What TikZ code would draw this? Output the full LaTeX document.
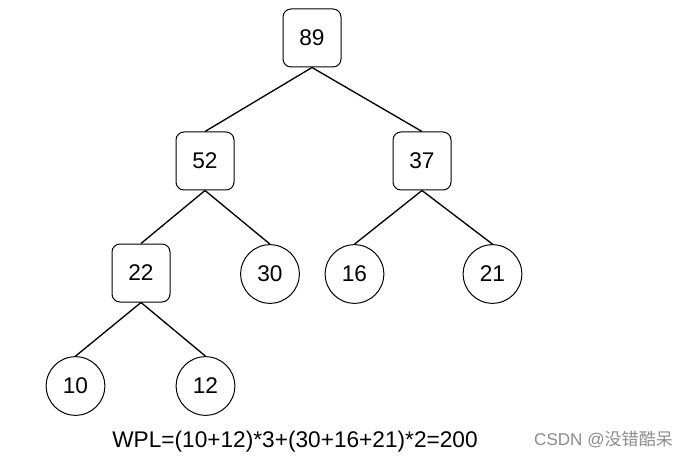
\documentclass[tikz,border=0pt]{standalone}
\usepackage{fontspec}
\setmainfont{Liberation Sans}
\newfontfamily\cjk{Noto Sans CJK SC}

\tikzset{
	inner/.style={draw, rounded corners=6pt, minimum size=43.5pt, line width=0.75pt, font=\fontsize{17}{19}\selectfont},
	leaf/.style={draw, circle, minimum size=44pt, inner sep=0pt, line width=0.75pt, font=\fontsize{17}{19}\selectfont},
}

\begin{document}
\begin{tikzpicture}[x=0.75pt, y=-0.75pt, line width=1pt]
	\useasboundingbox (0,0) rectangle (690,460);

	% === NODES === (((
	\node[inner] (89) at (312,38) {89};

	\node[inner] (52) at (205,161) {52};
	\node[inner] (37) at (422,161) {37};

	\node[inner] (22) at (141,273) {22};
	\node[leaf] (30) at (270,274) {30};
	\node[leaf] (16) at (354.5,274) {16};
	\node[leaf] (21) at (492.5,274) {21};

	\node[leaf] (10) at (75.5,386) {10};
	\node[leaf] (12) at (205.5,386) {12};

	\node[font=\fontsize{17}{19}\selectfont] (wpl) at (295,442) {WPL=(10+12)*3+(30+16+21)*2=200};
	\node[font=\fontsize{12.8}{14}\selectfont, text=black!45, anchor=east] (mark) at (678,440) {CSDN @\cjk 没错酷呆};
	% )))

	% === LINES === (((
	\draw (89.south) -- (52.north);
	\draw (89.south) -- (37.north);

	\draw (52.south) -- (22.north);
	\draw (52.south) -- (30.north);

	\draw (37.south) -- (16.north);
	\draw (37.south) -- (21.north);

	\draw (22.south) -- (10.north);
	\draw (22.south) -- (12.north);
	% )))

\end{tikzpicture}
\end{document}
